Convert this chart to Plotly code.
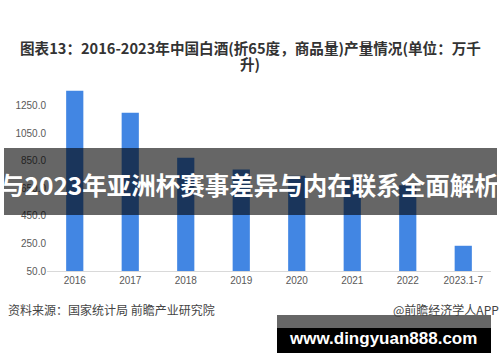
import plotly.graph_objects as go

categories = ["2016", "2017", "2018", "2019", "2020", "2021", "2022", "2023.1-7"]
production = [1358.4, 1198.1, 871.2, 785.9, 740.7, 715.6, 671.2, 233.0]
y_ticks = [50, 250, 450, 650, 850, 1050, 1250]
y_tick_labels = ["50.0", "250.0", "450.0", "650.0", "850.0", "1050.0", "1250.0"]

W, H = 500, 362
ML, MR, MT, MB = 47, 9, 78, 91
PW, PH = W - ML - MR, H - MT - MB

def px(x):
    return (x - ML) / PW

def py(y):
    return (H - MB - y) / PH

FONT = "Liberation Sans, Arial, Noto Sans CJK SC, sans-serif"
CJK = "Noto Sans CJK SC, sans-serif"

fig = go.Figure()
fig.add_trace(go.Bar(
    x=categories, y=[v - 50 for v in production], base=50,
    marker=dict(color="#4286e3", line=dict(width=0)),
    width=0.31, hoverinfo="skip",
))

fig.update_layout(
    width=W, height=H,
    margin=dict(l=ML, r=MR, t=MT, b=MB, pad=0),
    paper_bgcolor="white", plot_bgcolor="white",
    showlegend=False,
    font=dict(family=FONT, size=10, color="#595959"),
    xaxis=dict(showgrid=False, showline=True, linecolor="#d9d9d9", linewidth=1,
               ticks="", tickfont=dict(size=10, color="#595959"), fixedrange=True),
    yaxis=dict(range=[50, 1450], tickvals=y_ticks, ticktext=y_tick_labels,
               showgrid=False, zeroline=False, showline=False, ticks="",
               tickfont=dict(size=10, color="#595959"), fixedrange=True),
)

annotations = [
    dict(text="<b>图表13：2016-2023年中国白酒(折65度，商品量)产量情况(单位：万千</b>",
         x=px(250), y=py(47), xref="paper", yref="paper", xanchor="center", yanchor="middle",
         showarrow=False, font=dict(family=CJK, size=14.6, color="#333333")),
    dict(text="<b>升)</b>",
         x=px(250), y=py(64), xref="paper", yref="paper", xanchor="center", yanchor="middle",
         showarrow=False, font=dict(family=CJK, size=14.6, color="#333333")),
    dict(text="资料来源：国家统计局 前瞻产业研究院", x=px(6), y=py(309), xref="paper", yref="paper",
         xanchor="left", yanchor="middle", showarrow=False,
         font=dict(family=CJK, size=12, color="#444444")),
    dict(text="@前瞻经济学人APP", x=px(501), y=py(309), xref="paper", yref="paper",
         xanchor="right", yanchor="middle", showarrow=False,
         font=dict(family=CJK, size=12, color="#444444")),
]

shapes = [
    dict(type="rect", xref="paper", yref="paper", x0=px(4), x1=px(497), y0=py(148), y1=py(215),
         fillcolor="rgba(0,0,0,0.6)", line=dict(width=0), layer="above"),
    dict(type="rect", xref="paper", yref="paper", x0=px(277), x1=px(491), y0=py(315), y1=py(328),
         fillcolor="#666666", line=dict(width=0), layer="above"),
    dict(type="rect", xref="paper", yref="paper", x0=px(277), x1=px(491), y0=py(328), y1=py(353),
         fillcolor="#000000", line=dict(width=0), layer="above"),
]

annotations += [
    dict(text="<b>与2023年亚洲杯赛事差异与内在联系全面解析</b>", x=px(249), y=py(184),
         xref="paper", yref="paper", xanchor="center", yanchor="middle", showarrow=False,
         font=dict(family=CJK, size=24.5, color="white")),
    dict(text="<b>www.dingyuan888.com</b>", x=px(383), y=py(338), xref="paper", yref="paper",
         xanchor="center", yanchor="middle", showarrow=False,
         font=dict(family="Liberation Sans, Arial, sans-serif", size=17, color="white")),
]

fig.update_layout(annotations=annotations, shapes=shapes)
fig.write_html("out.html", config={"displayModeBar": False})
